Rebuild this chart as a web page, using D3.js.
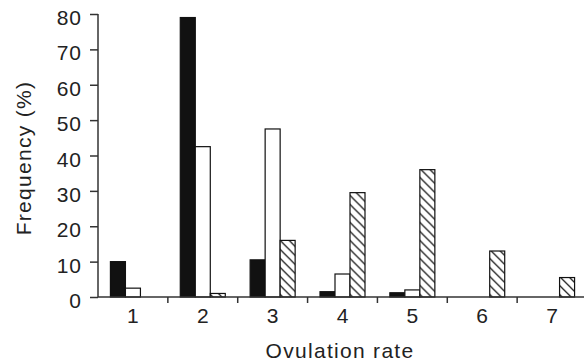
<!DOCTYPE html>
<html>
<head>
<meta charset="utf-8">
<script src="https://cdn.jsdelivr.net/npm/d3@7"></script>
<style>
  body { margin: 0; background: #fff; }
  svg { display: block; }
  text { font-family: "Liberation Sans", Arial, sans-serif; fill: #222; }
</style>
</head>
<body>
<svg id="chart" width="584" height="362"></svg>
<script>
// categories (ovulation rate) and the three series
const rates = ["1", "2", "3", "4", "5", "6", "7"];
const series = ["solid", "open", "hatched"];
const solidValues = [10, 79, 10.5, 1.5, 1.2, 0, 0];
const openValues = [2.5, 42.5, 47.5, 6.5, 2, 0, 0];
const hatchedValues = [0, 1, 16, 29.5, 36, 13, 5.5];
const yTicks = [0, 10, 20, 30, 40, 50, 60, 70, 80];

const width = 584;
const height = 362;
const margin = { top: 14, right: -3, bottom: 65, left: 98 };

const svg = d3.select("#chart");

// hatch pattern for the third series
const defs = svg.append("defs");
const pat = defs.append("pattern")
  .attr("id", "hatch")
  .attr("patternUnits", "userSpaceOnUse")
  .attr("width", 9)
  .attr("height", 9);
pat.append("rect").attr("width", 9).attr("height", 9).attr("fill", "#fff");
pat.append("path")
  .attr("d", "M-2,-2 L11,11 M-2,7 L2,11 M7,-2 L11,2")
  .attr("stroke", "#222")
  .attr("stroke-width", 1.3);

const x0 = d3.scaleBand()
  .domain(rates)
  .range([margin.left, width - margin.right])
  .padding(0);

// bars are 15px wide, grouped in the middle of each band
const barW = 15;
const x1 = d3.scaleBand()
  .domain(series)
  .range([0, x0.bandwidth()])
  .paddingInner(0)
  .paddingOuter((x0.bandwidth() - barW * series.length) / 2 / barW);

const y = d3.scaleLinear()
  .domain([0, 80])
  .range([height - margin.bottom, margin.top]);

const fills = { solid: "#111", open: "#fff", hatched: "url(#hatch)" };

const rows = rates.map((r, i) => ({
  rate: r,
  solid: solidValues[i],
  open: openValues[i],
  hatched: hatchedValues[i]
}));

const groups = svg.append("g")
  .selectAll("g")
  .data(rows)
  .join("g")
  .attr("transform", d => `translate(${x0(d.rate)},0)`);

groups.selectAll("rect")
  .data(d => series.map(s => ({ key: s, value: d[s] })).filter(v => v.value > 0))
  .join("rect")
  .attr("x", d => x1(d.key))
  .attr("width", x1.bandwidth())
  .attr("y", d => y(d.value))
  .attr("height", d => y(0) - y(d.value))
  .attr("fill", d => fills[d.key])
  .attr("stroke", "#111")
  .attr("stroke-width", 1.2);

// y axis
const yAxis = svg.append("g")
  .attr("transform", `translate(${margin.left},0)`)
  .call(d3.axisLeft(y).tickValues(yTicks).tickSize(8).tickPadding(8));
yAxis.select(".domain").attr("d", `M-0,${y(80)}V${y(0)}`);

// x axis: ticks sit on the band boundaries, labels at band centres
const xAxis = svg.append("g")
  .attr("transform", `translate(0,${y(0)})`);
xAxis.append("line")
  .attr("x1", margin.left)
  .attr("x2", width)
  .attr("stroke", "#333")
  .attr("stroke-width", 1.5);
xAxis.selectAll(".sep")
  .data(rates.slice(1))
  .join("line")
  .attr("class", "sep")
  .attr("x1", d => x0(d))
  .attr("x2", d => x0(d))
  .attr("y1", 0)
  .attr("y2", 6)
  .attr("stroke", "#333")
  .attr("stroke-width", 1.5);
xAxis.selectAll(".lbl")
  .data(rates)
  .join("text")
  .attr("class", "lbl")
  .attr("x", d => x0(d) + x0.bandwidth() / 2)
  .attr("y", 26)
  .attr("text-anchor", "middle")
  .style("font-size", "21px")
  .text(d => d);

yAxis.selectAll("line, path").attr("stroke", "#333").attr("stroke-width", 1.5);
yAxis.selectAll("text")
  .attr("dy", "0.5em")
  .style("font-size", "21px")
  .style("letter-spacing", "1px")
  .style("fill", "#222")
  .attr("font-family", null);

// axis titles
svg.append("text")
  .attr("x", (margin.left + width) / 2 - 1)
  .attr("y", 358)
  .attr("text-anchor", "middle")
  .style("font-size", "21px")
  .style("letter-spacing", "1.3px")
  .text("Ovulation rate");

svg.append("text")
  .attr("transform", `translate(31,158) rotate(-90)`)
  .attr("text-anchor", "middle")
  .style("font-size", "21px")
  .style("letter-spacing", "1.3px")
  .text("Frequency (%)");
</script>
</body>
</html>
